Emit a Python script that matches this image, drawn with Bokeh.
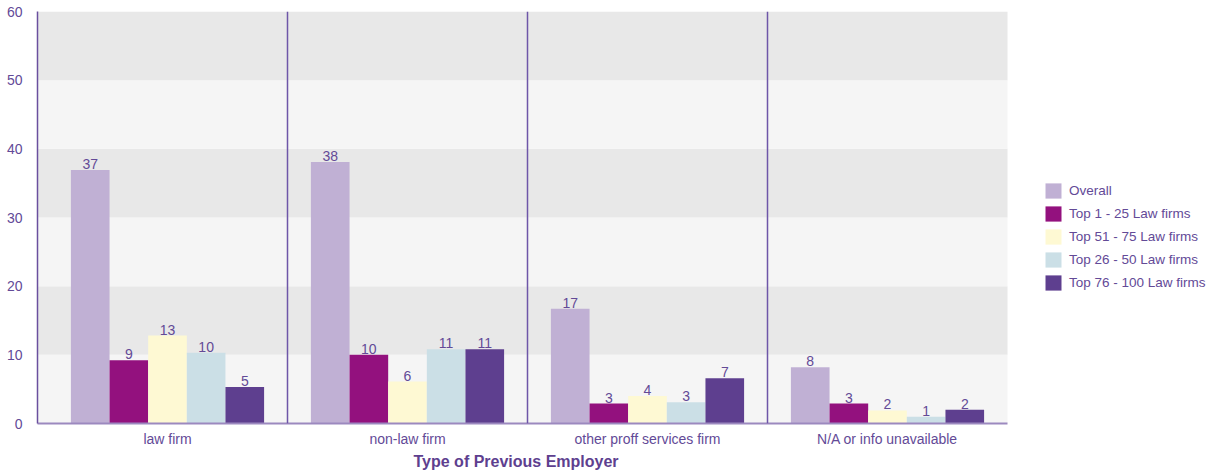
from bokeh.plotting import figure
from bokeh.models import (ColumnDataSource, Range1d, FixedTicker, LabelSet, Span,
                          BoxAnnotation, Legend, LegendItem, Title)
from bokeh.core.properties import value
from bokeh.embed import file_html
from bokeh.resources import INLINE

categories = ["law firm", "non-law firm", "other proff services firm", "N/A or info unavailable"]
series = ["Overall", "Top 1 - 25 Law firms", "Top 51 - 75 Law firms",
          "Top 26 - 50 Law firms", "Top 76 - 100 Law firms"]
colors = ["#c0b0d4", "#93117e", "#fef9d3", "#cbdfe6", "#5e3f8f"]
overall = [36.9, 38.1, 16.7, 8.2]
top_1_25 = [9.2, 10.0, 2.9, 2.9]
top_51_75 = [12.8, 6.1, 4.0, 1.9]
top_26_50 = [10.3, 10.8, 3.1, 1.0]
top_76_100 = [5.3, 10.8, 6.6, 2.0]
values = [overall, top_1_25, top_51_75, top_26_50, top_76_100]
y_ticks = [0, 10, 20, 30, 40, 50, 60]
x_title = "Type of Previous Employer"

TXT = "#634a97"
FONT = "Liberation Sans"

W, H = 1215, 472
LEFT, RIGHT, TOP, BOTTOM = 37, 2, 11, 49
PX_PER_CAT = 240
x0 = -10 / PX_PER_CAT
x1 = x0 + (W - LEFT - RIGHT) / PX_PER_CAT
ncat = len(categories)

p = figure(width=W, height=H, output_backend="svg", toolbar_location=None,
           x_range=Range1d(x0, x1), y_range=Range1d(0, 60),
           min_border_left=LEFT, min_border_right=RIGHT, min_border_top=TOP,
           min_border_bottom=BOTTOM)
p.background_fill_color = "white"
p.border_fill_color = "white"
p.outline_line_color = None
p.grid.grid_line_color = None

for i, b in enumerate(y_ticks[:-1]):
    p.add_layout(BoxAnnotation(left=x0, right=ncat, bottom=b, top=y_ticks[i + 1],
                               fill_color="#e8e8e8" if i % 2 else "#f5f5f5",
                               fill_alpha=1, line_color=None, level="underlay"))

bw = 0.161
items = []
centers = [i + 0.5 for i in range(ncat)]
for k, (name, col, vals) in enumerate(zip(series, colors, values)):
    xs = [c + (k - 2) * bw for c in centers]
    src = ColumnDataSource(dict(x=xs, top=vals, lab=[f"{v:.0f}" for v in vals]))
    r = p.vbar(x="x", top="top", width=bw, bottom=0, source=src,
               fill_color=col, line_color=None)
    items.append(LegendItem(label=name, renderers=[r]))
    p.add_layout(LabelSet(x="x", y="top", text="lab", source=src, text_align="center",
                          text_baseline="bottom", y_offset=1, text_color=TXT,
                          text_font=value(FONT), text_font_size="14px"))

for i in range(1, ncat):
    p.add_layout(Span(location=i, dimension="height", line_color="#6e56a8", line_width=1.5))

# y axis
p.yaxis.ticker = FixedTicker(ticks=y_ticks)
p.yaxis.major_tick_line_color = None
p.yaxis.minor_tick_line_color = None
p.yaxis.axis_line_color = "#6a4f9e"
p.yaxis.axis_line_width = 1.5
p.yaxis.major_label_text_color = TXT
p.yaxis.major_label_text_font = FONT
p.yaxis.major_label_text_font_size = "14px"
p.yaxis.major_label_standoff = 9

# x axis
p.xaxis.bounds = (x0, ncat)
p.xaxis.ticker = FixedTicker(ticks=centers)
p.xaxis.major_label_overrides = {c: n for c, n in zip(centers, categories)}
p.xaxis.major_tick_line_color = None
p.xaxis.minor_tick_line_color = None
p.xaxis.axis_line_color = "#9c89bf"
p.xaxis.axis_line_width = 2
p.xaxis.major_label_text_color = TXT
p.xaxis.major_label_text_font = FONT
p.xaxis.major_label_text_font_size = "14px"
p.xaxis.major_label_standoff = 1

p.add_layout(Title(text=x_title, align="left", offset=376, standoff=2,
                   text_font=FONT, text_font_style="bold", text_font_size="16px",
                   text_color="#5e3f8f"), "below")

legend = Legend(items=items, location=(1006, 131), padding=0, margin=0,
                spacing=4, glyph_width=20, glyph_height=19, label_standoff=6,
                label_text_font=FONT, label_text_font_size="13.5px",
                label_text_color=TXT, border_line_color=None,
                background_fill_alpha=0)
p.add_layout(legend, "center")

open("out.html", "w").write(file_html(p, INLINE))
